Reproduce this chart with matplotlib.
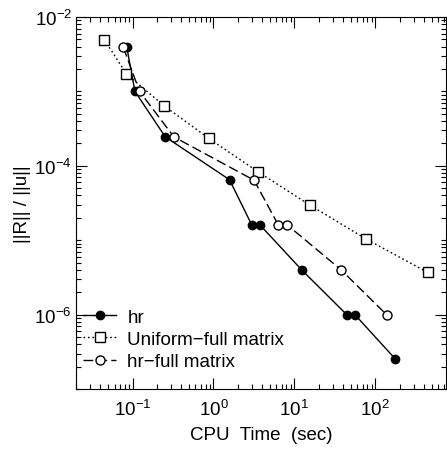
import numpy as np
import matplotlib
matplotlib.use('Agg')
import matplotlib.pyplot as plt
from matplotlib.ticker import FixedLocator, LogLocator, NullFormatter

plt.rcParams['font.family'] = ['Liberation Sans', 'DejaVu Sans']
plt.rcParams['mathtext.fontset'] = 'custom'
plt.rcParams['mathtext.rm'] = 'Liberation Sans'

# hr
hr_t = [0.085, 0.107, 0.254, 1.58, 2.98, 3.77, 12.3, 44.4, 56.0, 175.0]
hr_r = [3.9e-3, 1.0e-3, 2.45e-4, 6.5e-5, 1.6e-5, 1.6e-5, 4.0e-6, 1.0e-6, 1.0e-6, 2.57e-7]

# uniform - full matrix
uni_t = [0.045, 0.084, 0.246, 0.88, 3.56, 15.6, 78.0, 443.0]
uni_r = [4.95e-3, 1.71e-3, 6.4e-4, 2.33e-4, 8.3e-5, 2.96e-5, 1.03e-5, 3.7e-6]

# hr - full matrix
hrf_t = [0.077, 0.122, 0.324, 3.18, 6.34, 8.2, 37.8, 138.0]
hrf_r = [3.9e-3, 1.0e-3, 2.45e-4, 6.4e-5, 1.6e-5, 1.6e-5, 4.0e-6, 1.0e-6]

fs = 13.5

fig = plt.figure(figsize=(4.47, 4.52), dpi=100)
ax = fig.add_axes([76/447, 1 - 390/452, 370/447, 372/452])

ax.plot(hr_t, hr_r, '-', color='black', lw=1.0, marker='o', ms=6,
        mfc='black', mec='black', label='hr')
ax.plot(uni_t, uni_r, color='black', lw=1.0, dashes=(1.2, 2.0), marker='s', ms=6.5,
        mfc='white', mec='black', mew=1.0, label='Uniform\u2212full matrix')
ax.plot(hrf_t, hrf_r, color='black', lw=1.0, dashes=(7, 3), marker='o', ms=6.5,
        mfc='white', mec='black', mew=1.0, label='hr\u2212full matrix')

ax.set_xscale('log')
ax.set_yscale('log')
ax.set_xlim(0.02, 750)
ax.set_ylim(1e-7, 1e-2)

ax.yaxis.set_major_locator(FixedLocator([1e-6, 1e-4, 1e-2]))
ax.yaxis.set_minor_locator(LogLocator(base=10, subs=np.arange(1, 10), numticks=20))
ax.yaxis.set_minor_formatter(NullFormatter())
ax.xaxis.set_major_locator(LogLocator(base=10, numticks=20))
ax.xaxis.set_minor_locator(LogLocator(base=10, subs=np.arange(2, 10), numticks=20))
ax.xaxis.set_minor_formatter(NullFormatter())

ax.tick_params(which='both', direction='in', top=True, right=True, labelsize=fs)
ax.tick_params(which='major', length=8, width=0.8)
ax.tick_params(which='minor', length=3.5, width=0.8)
ax.tick_params(axis='x', pad=7)
ax.tick_params(axis='y', pad=3)

ax.set_xlabel('CPU  Time  (sec)', fontsize=fs, labelpad=5)
ax.set_ylabel('||R|| / ||u||', fontsize=fs, labelpad=2)

ax.legend(loc='lower left', bbox_to_anchor=(0.02, 0.05), frameon=False,
          fontsize=fs, handlelength=1.75, handletextpad=0.6, borderaxespad=0,
          labelspacing=0.28, borderpad=0)

fig.savefig('out.png', dpi=100)
